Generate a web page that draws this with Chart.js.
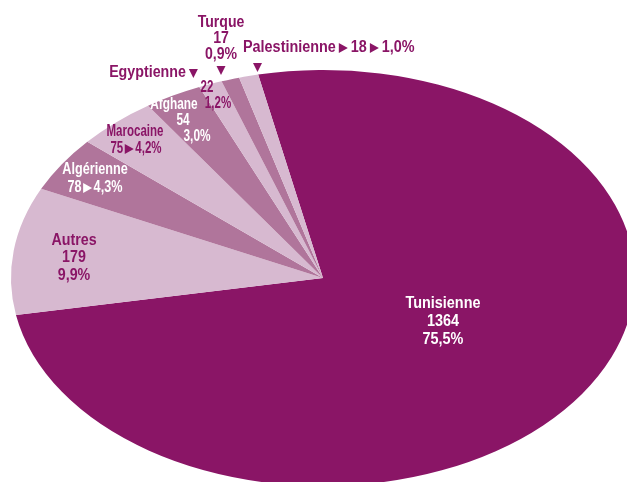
<!DOCTYPE html>
<html>
<head>
<meta charset="utf-8">
<script src="https://cdn.jsdelivr.net/npm/chart.js@4"></script>
<style>
  html, body { margin: 0; padding: 0; background: #fff; }
  #wrap { width: 627px; height: 482px; position: relative; }
</style>
</head>
<body>
<div id="wrap"><canvas id="pie"></canvas></div>
<script>
// Data
const categories = ["Tunisienne", "Autres", "Algérienne", "Marocaine", "Afghane", "Egyptienne", "Turque", "Palestinienne"];
const counts = [1364, 179, 78, 75, 54, 22, 17, 18];
const shares = ["75,5%", "9,9%", "4,3%", "4,2%", "3,0%", "1,2%", "0,9%", "1,0%"];

const DARK = "#8a1566";
const MID = "#b0759b";
const LIGHT = "#d7b9d0";
const sliceColors = [DARK, LIGHT, MID, LIGHT, MID, LIGHT, MID, LIGHT];

// Ellipse the pie is stretched onto
const ellipse = { cx: 323, cy: 278, rx: 312, ry: 208 };

// little triangle markers inside label lines
const RIGHT = { tri: "right" };
const DOWN = { tri: "down" };

// Label layout: lines per category, each line = pieces, x, y
// sx = horizontal squeeze of the text, gap = space around triangles
const labelLayout = [
  { color: "#fff", sx: 0.9, lines: [[[categories[0]], 443, 304], [[String(counts[0])], 443, 322], [[shares[0]], 443, 340]] },
  { color: DARK, sx: 0.89, lines: [[[categories[1]], 74, 241], [[String(counts[1])], 74, 258], [[shares[1]], 74, 276]] },
  { color: "#fff", sx: 0.79, gap: 1.5, lines: [[[categories[2]], 95, 170], [[String(counts[2]), RIGHT, shares[2]], 95, 188]] },
  { color: DARK, sx: 0.72, gap: 1.5, lines: [[[categories[3]], 135, 132], [[String(counts[3]), RIGHT, shares[3]], 136, 149]] },
  { color: "#fff", sx: 0.74, lines: [[[categories[4]], 174, 105], [[String(counts[4])], 183, 121], [[shares[4]], 197, 137]] },
  { color: DARK, sx: 0.72, lines: [[[String(counts[5])], 207, 88], [[shares[5]], 218, 104]] },
  { color: DARK, sx: 0.89, lines: [[[categories[5], DOWN], 155, 73]] },
  { color: DARK, sx: 0.88, lines: [[[categories[6]], 221, 23], [[String(counts[6])], 221, 39], [[shares[6]], 221, 55], [[DOWN], 221, 70]] },
  { color: DARK, sx: 0.9, align: "left", lines: [[[categories[7], RIGHT, String(counts[7]), RIGHT, shares[7]], 243, 48], [[DOWN], 250, 67]] },
];

const ellipsePlugin = {
  id: "ellipse",
  beforeDatasetsDraw(chart) {
    const arc = chart.getDatasetMeta(0).data[0];
    if (!arc) return;
    const ctx = chart.ctx;
    const r = arc.outerRadius;
    ctx.save();
    ctx.translate(ellipse.cx, ellipse.cy);
    ctx.scale(ellipse.rx / r, ellipse.ry / r);
    ctx.translate(-arc.x, -arc.y);
  },
  afterDatasetsDraw(chart) {
    chart.ctx.restore();
  },
};

function drawLine(ctx, pieces, x, y, lab) {
  const sx = lab.sx;
  const gap = lab.gap !== undefined ? lab.gap : 3;
  const triW = 9;
  ctx.font = "bold 16px 'Liberation Sans'";
  const widths = pieces.map((p) => (typeof p === "string" ? ctx.measureText(p).width * sx : triW + gap * 2));
  const total = widths.reduce((a, b) => a + b, 0);
  let cx = lab.align === "left" ? x : x - total / 2;
  pieces.forEach((p, k) => {
    if (typeof p === "string") {
      ctx.save();
      ctx.translate(cx, y);
      ctx.scale(sx, 1);
      ctx.textAlign = "left";
      ctx.fillText(p, 0, 0);
      ctx.restore();
    } else {
      const tx = cx + gap;
      ctx.beginPath();
      if (p.tri === "right") {
        ctx.moveTo(tx, y - 5);
        ctx.lineTo(tx + triW, y);
        ctx.lineTo(tx, y + 5);
      } else {
        ctx.moveTo(tx, y - 4);
        ctx.lineTo(tx + triW, y - 4);
        ctx.lineTo(tx + triW / 2, y + 5);
      }
      ctx.closePath();
      ctx.fill();
    }
    cx += widths[k];
  });
}

const labelPlugin = {
  id: "sliceLabels",
  afterDraw(chart) {
    const ctx = chart.ctx;
    ctx.save();
    ctx.textBaseline = "middle";
    labelLayout.forEach((lab) => {
      ctx.fillStyle = lab.color;
      lab.lines.forEach(([pieces, x, y]) => drawLine(ctx, pieces, x, y, lab));
    });
    ctx.restore();
  },
};

new Chart(document.getElementById("pie"), {
  type: "pie",
  data: {
    labels: categories,
    datasets: [
      {
        data: counts,
        backgroundColor: sliceColors,
        borderWidth: 0,
        clip: false,
      },
    ],
  },
  options: {
    responsive: true,
    maintainAspectRatio: false,
    animation: false,
    rotation: -12,
    layout: { padding: 0 },
    plugins: {
      legend: { display: false },
      tooltip: { enabled: false },
    },
  },
  plugins: [ellipsePlugin, labelPlugin],
});
</script>
</body>
</html>
